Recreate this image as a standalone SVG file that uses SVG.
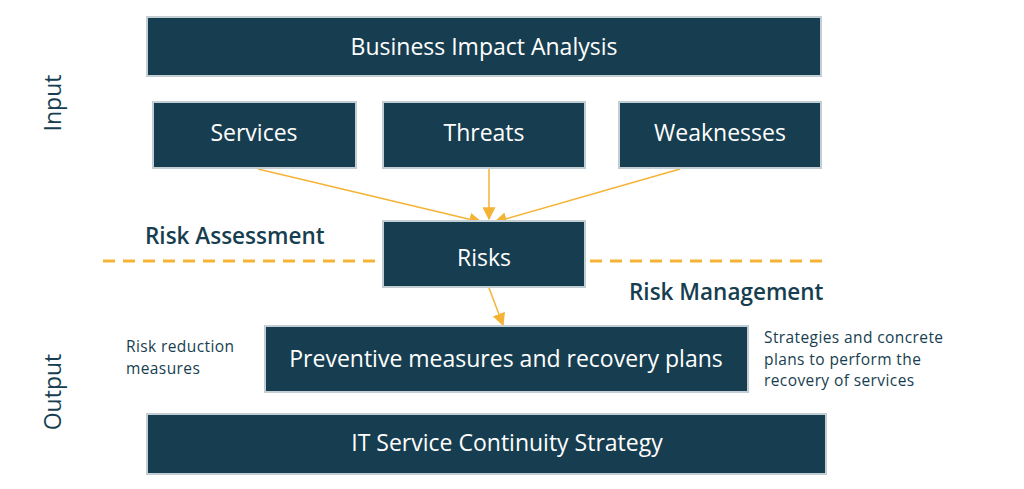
<svg xmlns="http://www.w3.org/2000/svg" width="1024" height="489" viewBox="0 0 1024 489">
<defs>
<style>
.box{fill:#173e50;stroke:#c3ced4;stroke-width:2}
.bt{fill:#ffffff;font-family:"Open Sans","Noto Sans",sans-serif;font-size:23px;text-anchor:middle;dominant-baseline:central}
.lbl{fill:#173e50;font-family:"Open Sans","Noto Sans",sans-serif;font-size:22.5px;font-weight:600}
.side{fill:#173e50;font-family:"Open Sans","Noto Sans",sans-serif;font-size:23px;text-anchor:middle}
.note{fill:#173e50;font-family:"Open Sans","Noto Sans",sans-serif;font-size:15.5px;letter-spacing:0.4px}
.arr{stroke:#f5b335;stroke-width:1.5;fill:none;marker-end:url(#ah)}
.dash{stroke:#f5b335;stroke-width:3;stroke-dasharray:12 8;fill:none}
</style>
<marker id="ah" viewBox="0 0 10 10" refX="9" refY="5" markerWidth="13" markerHeight="13" markerUnits="userSpaceOnUse" orient="auto">
<path d="M0,0 L10,5 L0,10 Z" fill="#f5b335"/>
</marker>
</defs>
<rect width="1024" height="489" fill="#ffffff"/>
<g id="labels">
<text class="side" transform="translate(61,103) rotate(-90)">Input</text>
<text class="side" transform="translate(61,392) rotate(-90)">Output</text>
<text class="lbl" x="145" y="244">Risk Assessment</text>
<text class="lbl" x="629" y="300">Risk Management</text>
<text class="note" x="126" y="352">Risk reduction</text>
<text class="note" x="126" y="373.5">measures</text>
<text class="note" x="764" y="343">Strategies and concrete</text>
<text class="note" x="764" y="364.5">plans to perform the</text>
<text class="note" x="764" y="386">recovery of services</text>
</g>
<g id="connectors">
<line class="dash" x1="103" y1="261" x2="383" y2="261"/>
<line class="dash" x1="590" y1="261" x2="822" y2="261"/>
<line class="arr" x1="258" y1="169" x2="481" y2="222"/>
<line class="arr" x1="489" y1="169" x2="489" y2="219"/>
<line class="arr" x1="680" y1="169" x2="495" y2="222"/>
<line class="arr" x1="489" y1="288" x2="503" y2="325"/>
</g>
<g id="bia"><rect class="box" x="147" y="17" width="674" height="59"/><text class="bt" x="484" y="46">Business Impact Analysis</text></g>
<g id="services"><rect class="box" x="153" y="102" width="203" height="66"/><text class="bt" x="254" y="132">Services</text></g>
<g id="threats"><rect class="box" x="383" y="102" width="202" height="66"/><text class="bt" x="484" y="132">Threats</text></g>
<g id="weaknesses"><rect class="box" x="619" y="102" width="202" height="66"/><text class="bt" x="720" y="132">Weaknesses</text></g>
<g id="risks"><rect class="box" x="383" y="221" width="202" height="66"/><text class="bt" x="484" y="257">Risks</text></g>
<g id="preventive"><rect class="box" x="265" y="326" width="483" height="66"/><text class="bt" x="506" y="358">Preventive measures and recovery plans</text></g>
<g id="itscs"><rect class="box" x="147" y="414" width="679" height="60"/><text class="bt" x="507" y="442">IT Service Continuity Strategy</text></g>
</svg>
